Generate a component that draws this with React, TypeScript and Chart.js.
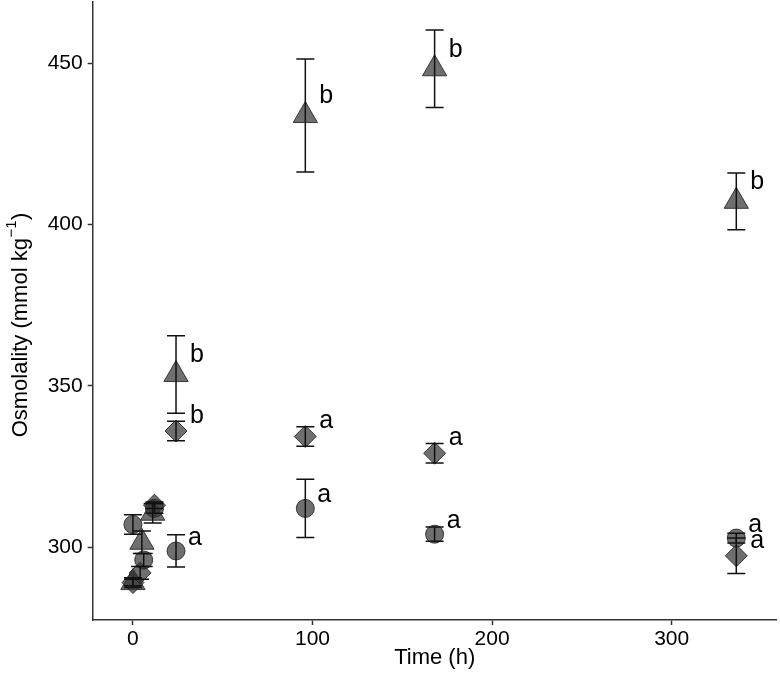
import React, { useEffect, useRef } from "react";
import { Chart, registerables } from "chart.js";
Chart.register(...registerables);

// ---- data ----
const circleTimes = [0, 6, 12, 24, 96, 168, 336];
const circleMeans = [307, 296, 312, 298.8, 312, 304, 302.8];
const circleErrs = [3, 2, 1.5, 5, 9, 2.2, 1.5];
const circleLetters = ["", "", "", "a", "a", "a", "a"];

const diamondTimes = [0, 4, 12, 24, 96, 168, 336];
const diamondMeans = [289, 292, 313, 336, 334.3, 329.1, 297.3];
const diamondErrs = [1, 2, 1, 3, 3, 3, 5.5];
const diamondLetters = ["", "", "", "b", "a", "a", "a"];

const triangleTimes = [0, 5, 11, 24, 96, 168, 336];
const triangleMeans = [289, 301.5, 310.5, 353.5, 433.8, 448.3, 407.2];
const triangleErrs = [1.5, 3.5, 3, 12, 17.5, 12, 8.8];
const triangleLetters = ["", "", "", "b", "b", "b", "b"];

const xTicks = [0, 100, 200, 300];
const yTicks = [300, 350, 400, 450];
const xMin = -22.4;
const xMax = 358.5;
const yMin = 277.4;
const yMax = 469;

const xTitle = "Time (h)";
const yTitleMain = "Osmolality (mmol kg";
const yTitleSup = "\u22121";
const yTitleEnd = ")";

const FONT = "'Liberation Sans', Arial, Helvetica, sans-serif";

export default function App() {
  const ref = useRef<HTMLCanvasElement>(null);
  useEffect(() => {
    document.body.style.margin = "0";
    const canvas = ref.current!;
    const series = [
      { times: circleTimes, means: circleMeans, errs: circleErrs, letters: circleLetters, style: "circle", radius: 9, dx: 19, dy: -13 },
      { times: diamondTimes, means: diamondMeans, errs: diamondErrs, letters: diamondLetters, style: "rectRot", radius: 11, dx: 21, dy: -15 },
      { times: triangleTimes, means: triangleMeans, errs: triangleErrs, letters: triangleLetters, style: "triangle", radius: 14, dx: 21, dy: -19 },
    ];

    const overlay = {
      id: "overlay",
      afterDatasetsDraw(chart: any) {
        const ctx = chart.ctx as CanvasRenderingContext2D;
        const xs = chart.scales.x;
        const ys = chart.scales.y;
        ctx.save();
        ctx.strokeStyle = "#111";
        ctx.lineWidth = 1.5;
        series.forEach((s) => {
          s.times.forEach((t, i) => {
            const px = xs.getPixelForValue(t);
            const top = ys.getPixelForValue(s.means[i] + s.errs[i]);
            const bot = ys.getPixelForValue(s.means[i] - s.errs[i]);
            ctx.beginPath();
            ctx.moveTo(px, top);
            ctx.lineTo(px, bot);
            ctx.moveTo(px - 9, top);
            ctx.lineTo(px + 9, top);
            ctx.moveTo(px - 9, bot);
            ctx.lineTo(px + 9, bot);
            ctx.stroke();
          });
        });
        ctx.fillStyle = "#000";
        ctx.font = `25px ${FONT}`;
        ctx.textAlign = "center";
        ctx.textBaseline = "middle";
        series.forEach((s) => {
          s.times.forEach((t, i) => {
            const l = s.letters[i];
            if (!l) return;
            const px = xs.getPixelForValue(t);
            const py = ys.getPixelForValue(s.means[i]);
            ctx.fillText(l, px + s.dx, py + s.dy);
          });
        });
        // y axis title with superscript
        const area = chart.chartArea;
        const cy = (area.top + area.bottom) / 2 + 14;
        ctx.translate(21, cy);
        ctx.rotate(-Math.PI / 2);
        ctx.textAlign = "left";
        ctx.textBaseline = "middle";
        ctx.font = `22px ${FONT}`;
        const w1 = ctx.measureText(yTitleMain).width;
        const w3 = ctx.measureText(yTitleEnd).width;
        ctx.font = `15px ${FONT}`;
        const w2 = ctx.measureText(yTitleSup).width;
        const total = w1 + w2 + w3 + 1;
        const x0 = -total / 2;
        ctx.font = `22px ${FONT}`;
        ctx.fillText(yTitleMain, x0, 0);
        ctx.font = `15px ${FONT}`;
        ctx.fillText(yTitleSup, x0 + w1 + 0.5, -9);
        ctx.font = `22px ${FONT}`;
        ctx.fillText(yTitleEnd, x0 + w1 + w2 + 1, 0);
        ctx.restore();
      },
    };

    const zeroPad = (sc: any) => {
      sc.paddingTop = 0;
      sc.paddingBottom = 0;
      sc.paddingLeft = 0;
      sc.paddingRight = 0;
    };

    const chart = new Chart(canvas, {
      type: "scatter",
      data: {
        datasets: series.map((s) => ({
          data: s.times.map((t, i) => ({ x: t, y: s.means[i] })),
          pointStyle: s.style as any,
          pointRadius: s.radius,
          pointHoverRadius: s.radius,
          pointBackgroundColor: "rgba(55,55,55,0.72)",
          pointBorderColor: "rgba(35,35,35,0.85)",
          pointBorderWidth: 1,
          showLine: false,
          clip: false as any,
        })),
      },
      options: {
        responsive: false,
        animation: false,
        layout: { autoPadding: false, padding: { top: 2, right: 3.3, left: 0, bottom: 0 } },
        plugins: { legend: { display: false }, tooltip: { enabled: false } },
        scales: {
          x: {
            type: "linear",
            min: xMin,
            max: xMax,
            afterBuildTicks: (sc: any) => {
              sc.ticks = xTicks.map((v) => ({ value: v }));
            },
            afterFit: (sc: any) => {
              sc.height = 54;
              zeroPad(sc);
            },
            grid: { drawOnChartArea: false, tickLength: 5, tickColor: "#333", tickWidth: 1.5 },
            border: { display: true, color: "#333", width: 1.5 },
            ticks: { color: "#000", font: { family: FONT, size: 21 }, padding: 2, maxRotation: 0 },
            title: { display: true, text: xTitle, color: "#000", font: { family: FONT, size: 22 }, padding: { top: 0, bottom: 3 } },
          },
          y: {
            type: "linear",
            min: yMin,
            max: yMax,
            afterBuildTicks: (sc: any) => {
              sc.ticks = yTicks.map((v) => ({ value: v }));
            },
            afterFit: (sc: any) => {
              sc.width = 92.7;
              zeroPad(sc);
            },
            grid: { drawOnChartArea: false, tickLength: 5, tickColor: "#333", tickWidth: 1.5 },
            border: { display: true, color: "#333", width: 1.5 },
            ticks: { color: "#000", font: { family: FONT, size: 21 }, padding: 5 },
          },
        },
      },
      plugins: [overlay],
    } as any);
    return () => chart.destroy();
  }, []);
  return (
    <div style={{ width: 780, height: 674 }}>
      <canvas ref={ref} width={780} height={674} style={{ display: "block" }} />
    </div>
  );
}
